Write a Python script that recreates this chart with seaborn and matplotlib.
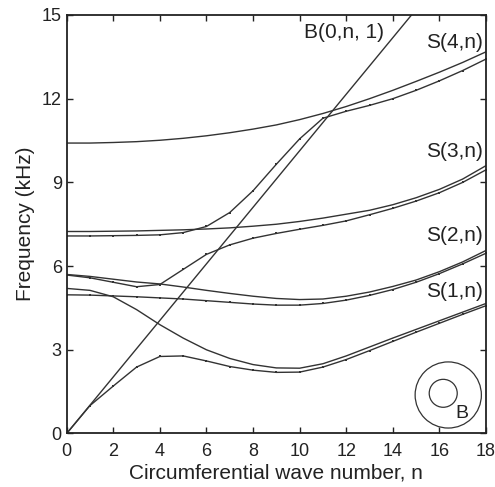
import numpy as np
import pandas as pd
import matplotlib
matplotlib.use("Agg")
import matplotlib.pyplot as plt
from matplotlib.patches import Circle
import seaborn as sns

# circumferential wave number
n = list(range(19))

# analytical curves (plain lines), kHz
s4_an = [10.41, 10.41, 10.43, 10.46, 10.51, 10.58, 10.67, 10.78, 10.91, 11.06,
         11.25, 11.47, 11.72, 12.00, 12.30, 12.62, 12.95, 13.30, 13.68]
s3_an = [7.24, 7.24, 7.25, 7.26, 7.28, 7.30, 7.33, 7.37, 7.43, 7.50,
         7.60, 7.72, 7.86, 8.00, 8.20, 8.45, 8.75, 9.12, 9.60]
s2_an = [5.70, 5.63, 5.53, 5.43, 5.36, 5.25, 5.13, 5.02, 4.92, 4.84,
         4.80, 4.82, 4.92, 5.07, 5.27, 5.50, 5.80, 6.15, 6.56]
s1_an = [5.20, 5.13, 4.90, 4.44, 3.90, 3.42, 3.00, 2.69, 2.47, 2.35,
         2.34, 2.50, 2.78, 3.10, 3.42, 3.73, 4.04, 4.35, 4.66]

# numerical curves (lines with dots)
fe_1 = [7.08, 7.08, 7.09, 7.10, 7.12, 7.20, 7.42, 7.92, 8.70, 9.65,
        10.56, 11.30, 11.55, 11.76, 12.00, 12.30, 12.64, 13.01, 13.42]
fe_2 = [5.68, 5.58, 5.42, 5.26, 5.34, 5.88, 6.42, 6.76, 7.00, 7.17,
        7.32, 7.46, 7.62, 7.84, 8.07, 8.33, 8.63, 9.00, 9.45]
fe_3 = [4.97, 4.96, 4.93, 4.90, 4.86, 4.82, 4.76, 4.70, 4.64, 4.60,
        4.60, 4.66, 4.78, 4.95, 5.16, 5.42, 5.73, 6.08, 6.46]
fe_4 = [0.00, 1.00, 1.70, 2.38, 2.76, 2.78, 2.60, 2.40, 2.27, 2.19,
        2.20, 2.38, 2.65, 2.97, 3.30, 3.63, 3.95, 4.27, 4.58]

# bore mode B(0,n,1)
b_n = [0, 15]
b_f = [0, 15.2]

labels = ["S(4,n)", "S(3,n)", "S(2,n)", "S(1,n)"]
label_f = [14.0, 10.1, 7.1, 5.1]

an = pd.DataFrame({
    "n": n * 4 + b_n,
    "f": s4_an + s3_an + s2_an + s1_an + b_f,
    "curve": ["s4"] * 19 + ["s3"] * 19 + ["s2"] * 19 + ["s1"] * 19 + ["b"] * 2,
})
fe = pd.DataFrame({
    "n": n * 4,
    "f": fe_1 + fe_2 + fe_3 + fe_4,
    "curve": ["a"] * 19 + ["b"] * 19 + ["c"] * 19 + ["d"] * 19,
})

sns.set_theme(style="ticks")
plt.rcParams["font.family"] = ["Liberation Sans", "DejaVu Sans"]

fig = plt.figure(figsize=(4.95, 4.87), dpi=100)
ax = fig.add_axes([0.1347, 0.1099, 0.8471, 0.8593])

lc = "#333333"
sns.lineplot(data=an, x="n", y="f", units="curve", estimator=None,
             color=lc, lw=1.0, ax=ax)
sns.lineplot(data=fe, x="n", y="f", units="curve", estimator=None,
             color=lc, lw=1.0, marker="s", markersize=2,
             markeredgewidth=0, ax=ax)

ax.set_xlim(0, 18)
ax.set_ylim(0, 15)
ax.set_xticks(range(0, 19, 2))
ax.set_yticks(range(0, 16, 3))
ax.tick_params(direction="in", length=4, width=1, top=True, right=True,
               labelsize=13, colors="#222222", pad=3.5)
ax.tick_params(axis="x", pad=6.5)
for s in ax.spines.values():
    s.set_linewidth(1.3)
    s.set_color("#222222")

ax.set_xlabel("Circumferential wave number, n", fontsize=15, color="#222222", labelpad=3)
ax.set_ylabel("Frequency (kHz)", fontsize=15, color="#222222", labelpad=5)

for lab, y in zip(labels, label_f):
    ax.text(17.85, y, lab, ha="right", va="center", fontsize=15, color="#222222")
ax.text(10.2, 14.37, "B(0,n, 1)", ha="left", va="center", fontsize=15, color="#222222")

# cross-section sketch
ax.add_patch(Circle((0.910, 0.092), 0.079, transform=ax.transAxes,
                    fill=False, lw=0.9, ec=lc))
ax.add_patch(Circle((0.898, 0.096), 0.0334, transform=ax.transAxes,
                    fill=False, lw=0.9, ec=lc))
ax.text(0.942, 0.048, "B", transform=ax.transAxes, ha="center", va="center",
        fontsize=14, color="#222222")

fig.savefig("out.png", dpi=100)
